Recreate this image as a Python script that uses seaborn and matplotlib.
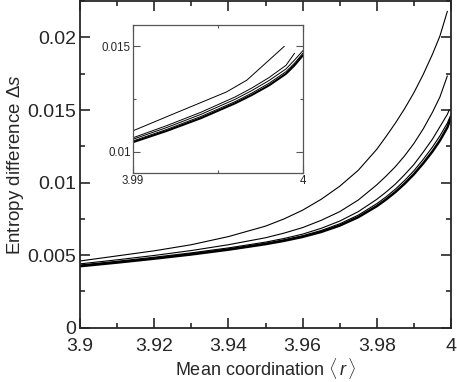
import numpy as np
import pandas as pd
import matplotlib
matplotlib.use("Agg")
import matplotlib.pyplot as plt
import matplotlib.ticker as mticker
import seaborn as sns

# --- data ---
x_ab = [3.90, 3.91, 3.92, 3.93, 3.94, 3.95, 3.955, 3.96, 3.965, 3.97, 3.975, 3.98,
        3.9825, 3.985, 3.9875, 3.99, 3.9925, 3.995, 3.997, 3.999]
x_c = x_ab + [3.9995]
x_de = x_ab + [4.0]

curve_a = [0.00460, 0.00495, 0.00530, 0.00572, 0.00628, 0.00700, 0.00750, 0.00810, 0.00885, 0.00975,
           0.01085, 0.01230, 0.01318, 0.01410, 0.01510, 0.01620, 0.01745, 0.01885, 0.02010, 0.02180]
curve_b = [0.00440, 0.00468, 0.00498, 0.00532, 0.00572, 0.00620, 0.00652, 0.00690, 0.00740, 0.00800,
           0.00880, 0.00985, 0.01045, 0.01110, 0.01185, 0.01270, 0.01370, 0.01485, 0.01590, 0.01735]
curve_c = [0.00432, 0.00458, 0.00486, 0.00516, 0.00550, 0.00590, 0.00615, 0.00645, 0.00685, 0.00735,
           0.00800, 0.00885, 0.00935, 0.00990, 0.01055, 0.01125, 0.01210, 0.01300, 0.01385, 0.01470, 0.01500]
curve_d = [0.00428, 0.00453, 0.00480, 0.00510, 0.00543, 0.00582, 0.00606, 0.00634, 0.00670, 0.00716,
           0.00776, 0.00855, 0.00902, 0.00955, 0.01015, 0.01082, 0.01160, 0.01245, 0.01322, 0.01410, 0.01470]
curve_e = [0.00424, 0.00449, 0.00476, 0.00505, 0.00538, 0.00576, 0.00599, 0.00626, 0.00660, 0.00704,
           0.00762, 0.00838, 0.00884, 0.00935, 0.00993, 0.01058, 0.01133, 0.01215, 0.01290, 0.01380, 0.01450]

# inset (close-up near <r> = 4)
x_in1 = [3.990, 3.9925, 3.9955, 3.9967, 3.9989]
in_1 = [0.01100, 0.01184, 0.01284, 0.01340, 0.01500]
x_in2 = [3.990, 3.992, 3.994, 3.996, 3.997, 3.998, 3.999, 3.9995]
in_2 = [0.01067, 0.01125, 0.01188, 0.01260, 0.01303, 0.01352, 0.01410, 0.01467]
x_in = [3.990, 3.992, 3.994, 3.996, 3.997, 3.998, 3.999, 3.9995, 4.0]
in_3 = [0.01060, 0.01116, 0.01178, 0.01249, 0.01291, 0.01338, 0.01393, 0.01435, 0.01480]
in_4 = [0.01052, 0.01107, 0.01168, 0.01238, 0.01279, 0.01325, 0.01380, 0.01420, 0.01468]
in_5 = [0.01046, 0.01100, 0.01160, 0.01230, 0.01270, 0.01315, 0.01370, 0.01410, 0.01458]

# --- style ---
sns.set_style("ticks")
plt.rcParams['font.family'] = ['Liberation Sans', 'DejaVu Sans']
plt.rcParams['mathtext.fontset'] = 'custom'
plt.rcParams['mathtext.rm'] = 'Liberation Sans'
plt.rcParams['mathtext.it'] = 'Liberation Sans:italic'

fig = plt.figure(figsize=(4.57, 3.82), dpi=100)
ax = fig.add_axes([0.175, 0.142, 0.812, 0.855])

main_curves = [(x_ab, curve_a, 0.8), (x_ab, curve_b, 0.8),
               (x_c, curve_c, 0.8), (x_de, curve_d, 0.8), (x_de, curve_e, 1.8)]
for xs, ys, lw in main_curves:
    sns.lineplot(x=xs, y=ys, ax=ax, color='black', linewidth=lw)

ax.set_xlim(3.9, 4.0)
ax.set_ylim(0, 0.0225)
ax.xaxis.set_major_locator(mticker.MultipleLocator(0.02))
ax.xaxis.set_minor_locator(mticker.MultipleLocator(0.01))
ax.yaxis.set_major_locator(mticker.MultipleLocator(0.005))
ax.yaxis.set_minor_locator(mticker.MultipleLocator(0.0025))
fmt = mticker.FuncFormatter(lambda v, p: '%g' % round(v, 5))
ax.xaxis.set_major_formatter(fmt)
ax.yaxis.set_major_formatter(fmt)
ax.tick_params(which='both', direction='in', top=True, right=True, width=1.2, labelsize=14)
ax.tick_params(axis='x', pad=7.5)
ax.tick_params(axis='y', pad=2.5)
ax.tick_params(which='major', length=7)
ax.tick_params(which='minor', length=3.5)
for s in ax.spines.values():
    s.set_linewidth(1.3)
ax.set_xlabel(r'Mean coordination $\langle\,r\,\rangle$', fontsize=13, labelpad=0.3)
ax.set_ylabel(r'Entropy difference $\Delta s$', fontsize=13.5, labelpad=1)

# --- inset ---
axi = fig.add_axes([0.291, 0.547, 0.372, 0.387])
inset_curves = [(x_in1, in_1, 0.7), (x_in2, in_2, 0.7), (x_in, in_3, 0.7),
                (x_in, in_4, 0.7), (x_in, in_5, 1.5)]
for xs, ys, lw in inset_curves:
    sns.lineplot(x=xs, y=ys, ax=axi, color='black', linewidth=lw)

axi.set_xlim(3.99, 4.0)
axi.set_ylim(0.009, 0.016)
axi.xaxis.set_major_locator(mticker.MultipleLocator(0.01))
axi.xaxis.set_minor_locator(mticker.MultipleLocator(0.005))
axi.yaxis.set_major_locator(mticker.MultipleLocator(0.005))
axi.yaxis.set_minor_locator(mticker.MultipleLocator(0.0025))
axi.xaxis.set_major_formatter(fmt)
axi.yaxis.set_major_formatter(fmt)
axi.tick_params(which='both', direction='in', top=True, right=True, width=0.8,
                labelsize=8.3, pad=1.5, color='#555555')
axi.tick_params(which='major', length=5)
axi.tick_params(which='minor', length=2.5)
for s in axi.spines.values():
    s.set_linewidth(0.9)
    s.set_color('#555555')

fig.savefig('out.png', dpi=100)
